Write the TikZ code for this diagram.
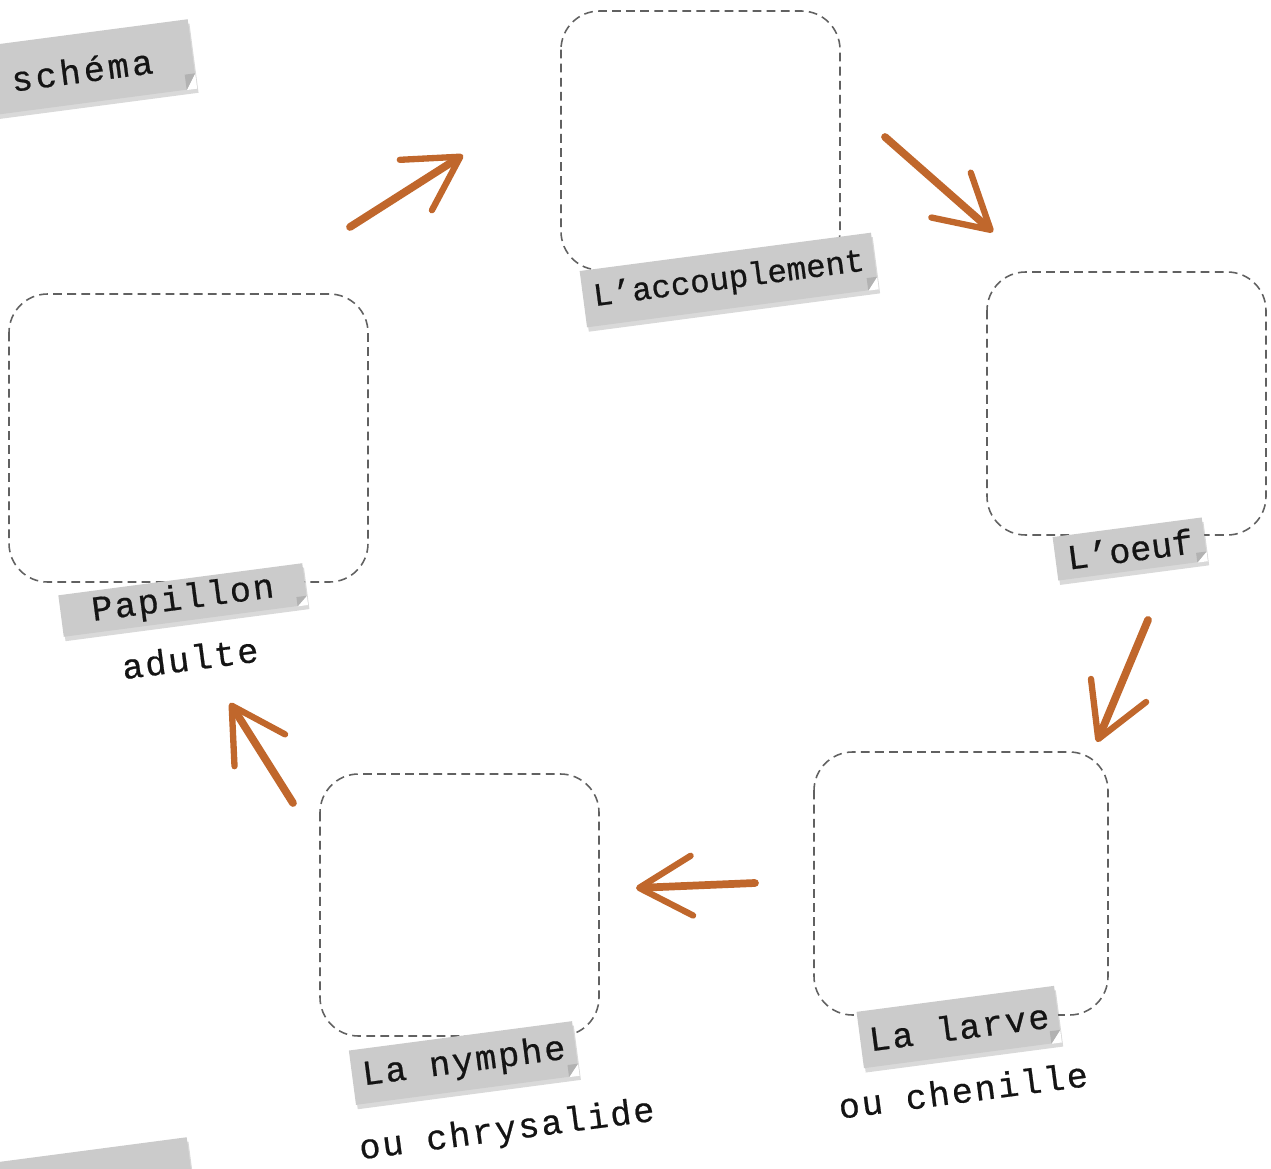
\documentclass[tikz,border=0pt]{standalone}
\usepackage{fontspec}
\newfontfamily\machine[LetterSpace=6,FakeBold=0.6]{Liberation Mono}
\usetikzlibrary{arrows.meta,shadows,calc}
\definecolor{rouille}{HTML}{C0672C}
\definecolor{scotch}{HTML}{CBCBCB}
\newcommand{\pix}{0.5669pt}
% coin replie d'un morceau de scotch
\newcommand{\pli}[1]{%
  \coordinate (#1p) at ($(#1.south east)!0.22!(#1.north east)$);
  \coordinate (#1q) at ($(#1.south east)!6pt!(#1.south west)$);
  \fill[white] (#1p) -- (#1.south east) -- (#1q) -- cycle;
  \fill[black!30] (#1p) -- (#1q) -- ($(#1p)+(#1q)-(#1.south east)$) -- cycle;}

\begin{document}
\begin{tikzpicture}[x=0.02cm,y=-0.02cm,
    cadre/.style={draw=black!62, line width=0.9pt, dash pattern=on 5pt off 3pt, rounded corners=22pt},
    scotch/.style={fill=scotch, inner sep=0pt, rotate=7.5, text=black!92,
      font=\machine\fontsize{20}{20}\selectfont,
      drop shadow={shadow xshift=1pt, shadow yshift=-2.5pt, opacity=0.3}},
    legende/.style={rotate=7.5, text=black!92, font=\machine\fontsize{20}{20}\selectfont},
    fleche/.style={draw=rouille, line width=4.4pt, line cap=round,
      -{Straight Barb[length=30pt,width=34pt,line width=3.6pt,round]}}]

  \useasboundingbox (0,0) rectangle (1271,1169);
  \clip (0,0) rectangle (1271,1169);

  % les cadres
  \draw[cadre] (561,11) rectangle (840,270);
  \draw[cadre] (987,272) rectangle (1266,535);
  \draw[cadre] (9,294) rectangle (368,582);
  \draw[cadre] (814,752) rectangle (1108,1015);
  \draw[cadre] (320,774) rectangle (599,1036);

  % les etiquettes
  \node[scotch, minimum width=280*\pix, minimum height=70*\pix] (titre) at (54,72) {};
  \node[legende, font=\machine\addfontfeature{LetterSpace=9}\fontsize{20}{20}\selectfont] (schema) at (82,70) {schéma};
  \pli{titre}
  \node[scotch, minimum width=280*\pix, minimum height=70*\pix] (bas) at (53,1190) {};

  \node[scotch, minimum width=295*\pix, minimum height=57*\pix,
    font=\machine\addfontfeature{LetterSpace=0}\fontsize{18.5}{18.5}\selectfont] (acc) at (729,280) {L’accouplement};
  \pli{acc}
  \node[scotch, minimum width=151*\pix, minimum height=44*\pix,
    font=\machine\addfontfeature{LetterSpace=0}\fontsize{20}{20}\selectfont] (oeuf) at (1130,549) {L’oeuf};
  \pli{oeuf}
  \node[scotch, minimum width=247*\pix, minimum height=42*\pix] (papillon) at (183,600) {Papillon};
  \pli{papillon}
  \node[legende] (adulte) at (190,658) {adulte};
  \node[scotch, minimum width=200*\pix, minimum height=57*\pix] (larve) at (959,1027) {La larve};
  \pli{larve}
  \node[legende] (chenille) at (963,1090) {ou chenille};
  \node[scotch, minimum width=226*\pix, minimum height=55*\pix] (nymphe) at (464,1063) {La nymphe};
  \pli{nymphe}
  \node[legende] (chrysalide) at (507,1131) {ou chrysalide};

  % les fleches
  \coordinate (f1a) at (350,227); \coordinate (f1b) at (463,155);
  \coordinate (f2a) at (885,137); \coordinate (f2b) at (993,232);
  \coordinate (f3a) at (1148,620); \coordinate (f3b) at (1097,742);
  \coordinate (f4a) at (755,883); \coordinate (f4b) at (636,888);
  \coordinate (f5a) at (293,803); \coordinate (f5b) at (230,703);
  \draw[fleche] (f1a) -- (f1b);
  \draw[fleche] (f2a) -- (f2b);
  \draw[fleche] (f3a) -- (f3b);
  \draw[fleche] (f4a) -- (f4b);
  \draw[fleche] (f5a) -- (f5b);
\end{tikzpicture}
\end{document}
